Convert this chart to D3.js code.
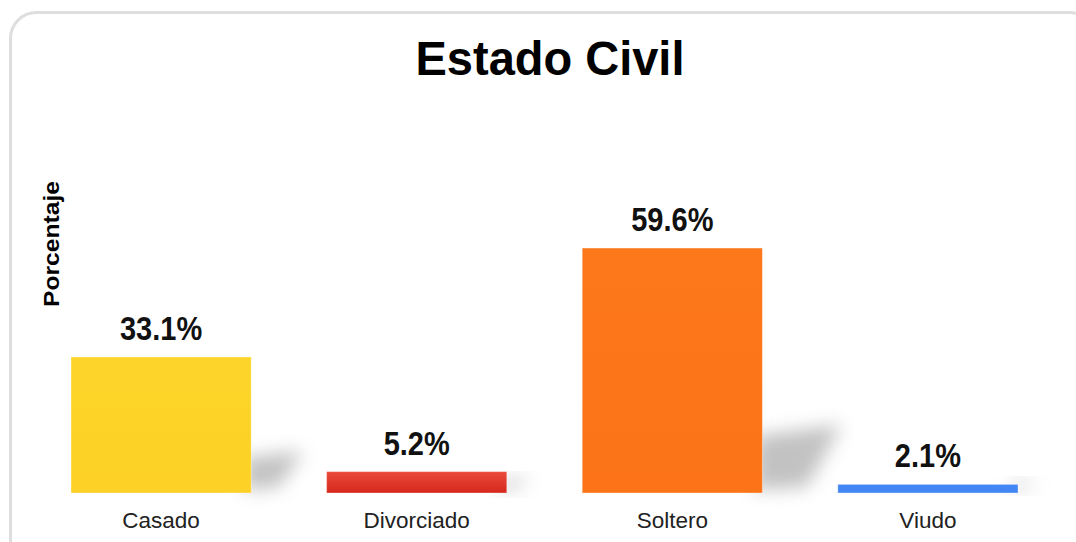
<!DOCTYPE html>
<html>
<head>
<meta charset="utf-8">
<script src="https://cdn.jsdelivr.net/npm/d3@7"></script>
<style>
  html, body { margin: 0; padding: 0; background: #fff; }
  svg { display: block; font-family: "Liberation Sans", Arial, sans-serif; }
</style>
</head>
<body>
<div id="chart"></div>
<script>
// data
var categories = ["Casado", "Divorciado", "Soltero", "Viudo"];
var values = [33.1, 5.2, 59.6, 2.1];
var valueLabels = ["33.1%", "5.2%", "59.6%", "2.1%"];
var barColors = [
    ["#fdd52a", "#fdd125"],
    ["#ea4a3a", "#d6281c"],
    ["#fd771b", "#fd7418"],
    ["#4387f5", "#4285f4"]
];

const WIDTH = 1076;
const HEIGHT = 542;
const BASE = 493;

var svg = d3.select("#chart").append("svg")
    .attr("width", WIDTH)
    .attr("height", HEIGHT);

var defs = svg.append("defs");

defs.append("filter")
    .attr("id", "blur")
    .attr("x", "-60%").attr("y", "-60%")
    .attr("width", "220%").attr("height", "220%")
    .append("feGaussianBlur")
    .attr("stdDeviation", 9);

barColors.forEach(function(c, i) {
    var grad = defs.append("linearGradient")
        .attr("id", "grad" + i)
        .attr("x1", 0).attr("y1", 0)
        .attr("x2", 0).attr("y2", 1);
    grad.append("stop").attr("offset", "0%").attr("stop-color", c[0]);
    grad.append("stop").attr("offset", "100%").attr("stop-color", c[1]);
});

// card border
svg.append("rect")
    .attr("x", 10.5)
    .attr("y", 12.5)
    .attr("width", 1085)
    .attr("height", 560)
    .attr("rx", 26)
    .attr("fill", "#fff")
    .attr("stroke", "#dedede")
    .attr("stroke-width", 3);

var x = d3.scaleBand()
    .domain(categories)
    .range([33.3, 1055.7])
    .paddingInner(0.295)
    .paddingOuter(0.1475);

var y = d3.scaleLinear()
    .domain([0, 60])
    .range([BASE, 246.4]);

var data = categories.map(function(c, i) {
    return {cat: c, value: values[i], label: valueLabels[i], idx: i};
});

// shadows
var g = svg.append("g");
g.selectAll("path.shadow")
    .data(data)
    .enter().append("path")
    .attr("class", "shadow")
    .attr("fill", "#9a9a9a")
    .attr("opacity", 0.6)
    .attr("filter", "url(#blur)")
    .attr("d", function(d) {
        var x1 = x(d.cat) + x.bandwidth() - 8;
        var h = BASE - y(d.value);
        var sh = 0.2 * h + 8;
        var sw = 0.25 * h + 26;
        return "M" + x1 + "," + (BASE - 3) +
            "L" + x1 + "," + (BASE - sh) +
            "L" + (x1 + sw) + "," + (BASE - sh - sh * 0.2) +
            "L" + (x1 + sw * 0.6) + "," + (BASE - 6) + "Z";
    });

// bars
g.selectAll("rect.bar")
    .data(data)
    .enter().append("rect")
    .attr("class", "bar")
    .attr("x", function(d) { return x(d.cat); })
    .attr("y", function(d) { return y(d.value); })
    .attr("width", x.bandwidth())
    .attr("height", function(d) { return BASE - y(d.value); })
    .attr("fill", function(d) { return "url(#grad" + d.idx + ")"; })
    .attr("stroke", "rgba(255,255,255,0.35)")
    .attr("stroke-width", 1);

// value labels
g.selectAll("text.val")
    .data(data)
    .enter().append("text")
    .attr("class", "val")
    .attr("transform", function(d) {
        return "translate(" + (x(d.cat) + x.bandwidth() / 2) + "," + (y(d.value) - 17) + ") scale(1,1.15)";
    })
    .attr("text-anchor", "middle")
    .attr("font-size", "29px")
    .attr("font-weight", "bold")
    .attr("fill", "#111")
    .text(function(d) { return d.label; });

// category labels
g.selectAll("text.cat")
    .data(data)
    .enter().append("text")
    .attr("class", "cat")
    .attr("x", function(d) { return x(d.cat) + x.bandwidth() / 2; })
    .attr("y", 528)
    .attr("text-anchor", "middle")
    .attr("font-size", "22.5px")
    .attr("fill", "#222")
    .text(function(d) { return d.cat; });

// title
svg.append("text")
    .attr("transform", "translate(550,75) scale(1,1.04)")
    .attr("text-anchor", "middle")
    .attr("font-size", "47px")
    .attr("font-weight", "bold")
    .attr("fill", "#000")
    .text("Estado Civil");

// axis title
svg.append("text")
    .attr("transform", "translate(59,244) rotate(-90) scale(1.12,1)")
    .attr("text-anchor", "middle")
    .attr("font-size", "22px")
    .attr("font-weight", "bold")
    .attr("fill", "#000")
    .text("Porcentaje");
</script>
</body>
</html>
